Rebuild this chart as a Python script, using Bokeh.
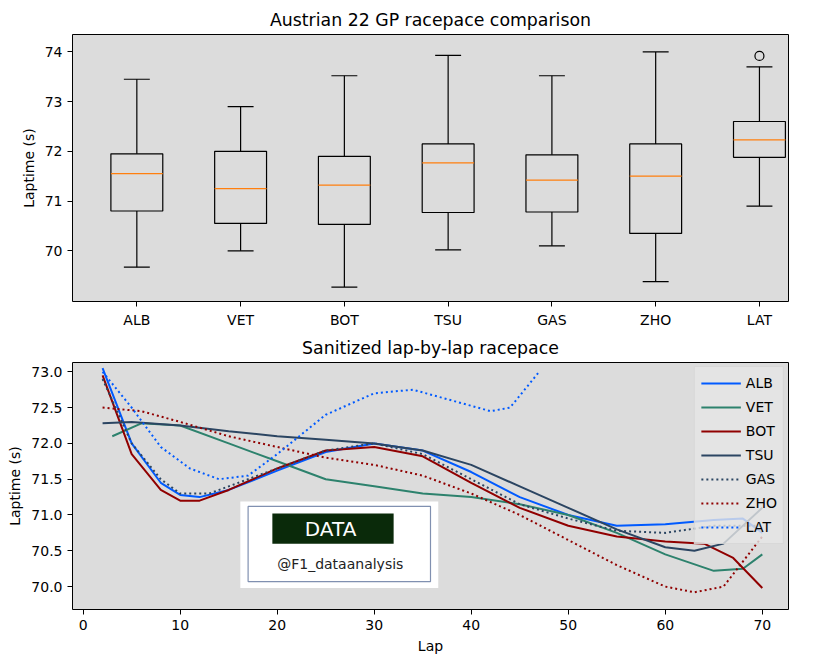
from bokeh.plotting import figure
from bokeh.layouts import column
from bokeh.models import FixedTicker, Range1d, Legend, LegendItem, PrintfTickFormatter
from bokeh.core.properties import value
from bokeh.embed import file_html
from bokeh.resources import INLINE

drivers = ["ALB", "VET", "BOT", "TSU", "GAS", "ZHO", "LAT"]
wlo = [69.67, 70.0, 69.27, 70.02, 70.1, 69.38, 70.9]
q1 = [70.8, 70.55, 70.53, 70.77, 70.78, 70.35, 71.88]
med = [71.55, 71.25, 71.32, 71.77, 71.42, 71.5, 72.23]
q3 = [71.95, 72.0, 71.9, 72.15, 71.93, 72.15, 72.6]
whi = [73.45, 72.9, 73.52, 73.93, 73.52, 74.0, 73.7]
out_x = [7]
out_y = [73.92]

laps = {
    "ALB": [2, 5, 8, 10, 12, 15, 20, 25, 30, 35, 40, 45, 50, 55, 60, 65, 68, 70],
    "VET": [3, 6, 10, 15, 20, 25, 30, 35, 40, 45, 50, 55, 60, 65, 68, 70],
    "BOT": [2, 5, 8, 10, 12, 15, 20, 25, 30, 35, 40, 45, 50, 55, 60, 64, 67, 70],
    "TSU": [2, 5, 10, 15, 20, 25, 30, 35, 40, 45, 50, 55, 60, 63, 66, 70],
    "GAS": [2, 5, 8, 10, 13, 17, 20, 25, 30, 35, 40, 45, 50, 55, 60, 65, 70],
    "ZHO": [2, 6, 10, 15, 20, 25, 30, 35, 40, 45, 50, 55, 60, 63, 66, 70],
    "LAT": [2, 5, 8, 11, 14, 17, 20, 25, 30, 34, 38, 42, 44, 47],
}
times = {
    "ALB": [73.05, 72.0, 71.45, 71.28, 71.25, 71.35, 71.62, 71.88, 72.0, 71.9, 71.6, 71.25, 71.0, 70.85, 70.87, 70.93, 70.95, 70.75],
    "VET": [72.1, 72.28, 72.25, 72.0, 71.75, 71.5, 71.4, 71.3, 71.25, 71.15, 71.0, 70.75, 70.45, 70.22, 70.25, 70.45],
    "BOT": [72.95, 71.85, 71.35, 71.2, 71.2, 71.35, 71.65, 71.9, 71.95, 71.82, 71.45, 71.1, 70.85, 70.7, 70.63, 70.6, 70.4, 69.98],
    "TSU": [72.28, 72.3, 72.25, 72.17, 72.1, 72.05, 72.0, 71.9, 71.7, 71.4, 71.1, 70.8, 70.55, 70.5, 70.6, 71.1],
    "GAS": [72.9, 72.0, 71.5, 71.3, 71.3, 71.5, 71.65, 71.9, 72.0, 71.85, 71.5, 71.15, 70.95, 70.78, 70.75, 70.85, 70.85],
    "ZHO": [72.5, 72.45, 72.3, 72.1, 71.95, 71.8, 71.7, 71.55, 71.3, 71.0, 70.65, 70.3, 70.0, 69.92, 70.0, 70.7],
    "LAT": [73.0, 72.5, 71.95, 71.65, 71.5, 71.55, 71.85, 72.4, 72.7, 72.75, 72.6, 72.45, 72.5, 73.0],
}
colors = {"ALB": "#005aff", "VET": "#2d826d", "BOT": "#900000", "TSU": "#2b4562",
          "GAS": "#2b4562", "ZHO": "#900000", "LAT": "#005aff"}
dashes = {"ALB": "solid", "VET": "solid", "BOT": "solid", "TSU": "solid",
          "GAS": "2 3", "ZHO": "2 3", "LAT": "2 3"}

FONT = "DejaVu Sans"
BG = "#dcdcdc"

def style(p):
    p.background_fill_color = BG
    p.outline_line_color = "black"
    p.grid.visible = False
    p.title.align = "center"
    p.title.text_font = FONT
    p.title.text_font_size = "13pt"
    p.title.text_font_style = "normal"
    p.title.text_color = "black"
    for ax in (p.xaxis, p.yaxis):
        ax.major_label_text_font = FONT
        ax.major_label_text_font_size = "10.5pt"
        ax.major_label_text_color = "black"
        ax.axis_label_text_font = FONT
        ax.axis_label_text_font_size = "10.5pt"
        ax.axis_label_text_font_style = "normal"
        ax.axis_label_text_color = "black"
        ax.minor_tick_line_color = None
        ax.major_tick_out = 5
        ax.major_tick_in = 0
        ax.axis_line_color = None

xs = list(range(1, 8))
p1 = figure(width=800, height=330, output_backend="svg", toolbar_location=None,
            x_range=Range1d(0.38, 7.28), y_range=Range1d(68.98, 74.35),
            title="Austrian 22 GP racepace comparison",
            min_border_left=56, min_border_right=12, min_border_top=34, min_border_bottom=24)
style(p1)
p1.segment(xs, wlo, xs, q1, line_color="black", line_width=1.2)
p1.segment(xs, q3, xs, whi, line_color="black", line_width=1.2)
p1.segment([x - 0.125 for x in xs], wlo, [x + 0.125 for x in xs], wlo, line_color="black", line_width=1.2)
p1.segment([x - 0.125 for x in xs], whi, [x + 0.125 for x in xs], whi, line_color="black", line_width=1.2)
p1.vbar(x=xs, bottom=q1, top=q3, width=0.5, fill_alpha=0, line_color="black", line_width=1.2)
p1.segment([x - 0.25 for x in xs], med, [x + 0.25 for x in xs], med, line_color="#ff7f0e", line_width=1.2)
p1.scatter(out_x, out_y, size=9, fill_alpha=0, line_color="black", line_width=1.2)
p1.xaxis.ticker = FixedTicker(ticks=xs)
p1.xaxis.major_label_overrides = {i + 1: d for i, d in enumerate(drivers)}
p1.yaxis.ticker = FixedTicker(ticks=[70, 71, 72, 73, 74])
p1.yaxis.axis_label = "Laptime (s)"

p2 = figure(width=800, height=326, output_backend="svg", toolbar_location=None,
            x_range=Range1d(-1.1, 72.7), y_range=Range1d(69.68, 73.13),
            title="Sanitized lap-by-lap racepace",
            min_border_left=72, min_border_right=12, min_border_top=0, min_border_bottom=40)
style(p2)
items = []
for d in drivers:
    r = p2.line(laps[d], times[d], line_color=colors[d], line_width=2, line_dash=dashes[d])
    items.append(LegendItem(label=d, renderers=[r]))
leg = Legend(items=items, location="top_right", label_text_font=FONT, label_text_font_size="10.5pt",
             label_text_color="black",
             background_fill_color="#e6e6e6", background_fill_alpha=0.8, border_line_color="#cccccc",
             glyph_width=40, label_height=16, spacing=4, padding=6, margin=4)
p2.add_layout(leg)
p2.xaxis.ticker = FixedTicker(ticks=[0, 10, 20, 30, 40, 50, 60, 70])
p2.yaxis.ticker = FixedTicker(ticks=[70.0, 70.5, 71.0, 71.5, 72.0, 72.5, 73.0])
p2.yaxis.formatter = PrintfTickFormatter(format="%.1f")
p2.yaxis.axis_label = "Laptime (s)"
p2.xaxis.axis_label = "Lap"

# logo (white panel with text)
p2.quad(left=[16.2], right=[36.6], bottom=[69.98], top=[71.19], fill_color="white", line_color=None)
p2.quad(left=[17.0], right=[35.8], bottom=[70.07], top=[71.12], fill_color="white", line_color="#8090b0", line_width=1.2)
p2.quad(left=[19.5], right=[32], bottom=[70.60], top=[71.02], fill_color="#0a2a0a", line_color=None)
p2.text([25.5], [70.8], text=["DATA"], text_color="white", text_font_size="15pt",
        text_align="center", text_baseline="middle", text_font=value(FONT))
p2.text([26.5], [70.32], text=["@F1_dataanalysis"], text_color="#222222", text_font_size="10.5pt",
        text_align="center", text_baseline="middle", text_font=value(FONT))

lay = column(p1, p2, spacing=0)
open("out.html", "w").write(file_html(lay, INLINE))
